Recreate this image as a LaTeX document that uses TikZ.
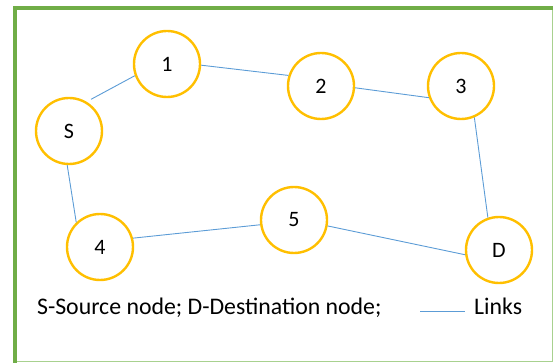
\documentclass[tikz,border=0pt]{standalone}
\usepackage{fontspec}
\setmainfont{Carlito}
\usepackage{tikz}
\usetikzlibrary{positioning}
\tikzset{host/.style = {draw = mgold, line width = 2.4, circle, minimum size = 66, inner sep = 0, font = \fontsize{22}{26}\selectfont}}
\tikzset{link/.style = {mblue, line width = 0.9}}
\definecolor{mgold}{rgb}{1, 0.75, 0}
\definecolor{mblue}{rgb}{0.36, 0.61, 0.84}
\definecolor{mgreen}{rgb}{0.44, 0.68, 0.28}
\definecolor{lgreen}{rgb}{0.66, 0.82, 0.56}

\begin{document}
\begin{tikzpicture}[x = 1pt, y = -1pt]
    \useasboundingbox (0, 0) rectangle (554, 363);

    % frame
    \draw [lgreen, line width = 1] (552.5, 8) -- (552.5, 361.5) -- (15, 361.5);
    \draw [mgreen, line width = 4] (15, 363) -- (15, 8) -- (553, 8);

    \node [host] (s) at (69, 131) {S};
    \node [host] (n1) at (167, 64) {1};
    \node [host] (n2) at (321, 86) {2};
    \node [host] (n3) at (461, 86) {3};
    \node [host] (n4) at (100, 247) {4};
    \node [host] (n5) at (294, 220) {5};
    \node [host] (d) at (499, 250) {D};

    \draw [link, shorten < = 5] (s.59) -- (n1.200);
    \draw [link] (n1.-2) -- (n2.162);
    \draw [link] (n2.-3) -- (n3.-160);
    \draw [link] (n3.-67) -- (d.109);
    \draw [link] (s.-93) -- (n4.134);
    \draw [link] (n4.15) -- (n5.188);
    \draw [link] (n5.-10) -- (d.188);

    % legend
    \node [anchor = base west, inner sep = 0, font = \fontsize{23.8}{28}\selectfont] (key) at (37, 314) {S-Source node; D-Destination node;};
    \coordinate (ka) at (420, 311);
    \coordinate (kb) at (465, 311);
    \draw [link] (ka) -- (kb);
    \node [anchor = base west, inner sep = 0, font = \fontsize{23.8}{28}\selectfont] (links) at (474, 314) {Links};
\end{tikzpicture}
\end{document}
